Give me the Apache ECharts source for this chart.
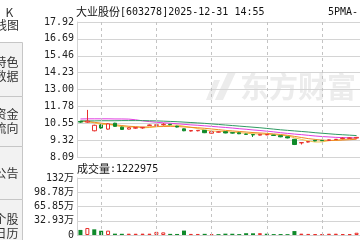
<!DOCTYPE html>
<html><head><meta charset="utf-8">
<style>html,body{margin:0;padding:0;background:#fff;overflow:hidden}#c{width:360px;height:240px}</style>
<script src="https://cdn.jsdelivr.net/npm/echarts@6/dist/echarts.min.js"></script>
</head><body><div id="c"></div>
<script>
// ---- data ----
const categories = ['1','2','3','4','5','6','7','8','9','10','11','12','13','14','15','16','17','18','19','20','21','22','23','24','25','26','27','28','29','30','31','32','33','34','35','36','37','38','39','40','41'];
const opens  = [10.68,10.63,10.00,10.42,10.12,10.55,10.26,10.12,10.19,10.21,10.39,10.40,10.44,10.47,10.34,10.14,9.98,10.00,10.03,9.82,9.90,9.93,9.86,9.85,9.76,9.72,9.68,9.70,9.68,9.64,9.56,9.38,9.12,9.18,9.30,9.30,9.30,9.36,9.43,9.45,9.47];
const closes = [10.63,10.70,10.40,10.20,10.50,10.32,10.10,10.22,10.23,10.25,10.42,10.43,10.47,10.44,10.27,10.00,10.02,10.03,9.86,9.93,9.92,9.84,9.83,9.78,9.74,9.70,9.74,9.73,9.66,9.56,9.48,9.00,9.14,9.21,9.26,9.28,9.34,9.38,9.46,9.48,9.52];
const lows   = [10.58,10.58,9.96,10.15,10.08,10.28,10.06,10.10,10.14,10.15,10.36,10.32,10.38,10.41,10.24,9.97,9.95,9.96,9.83,9.80,9.87,9.82,9.80,9.76,9.72,9.55,9.66,9.68,9.62,9.53,9.45,8.96,9.00,9.15,9.24,9.26,9.28,9.34,9.38,9.42,9.44];
const highs  = [10.72,11.52,10.44,10.47,10.55,10.58,10.30,10.25,10.26,10.28,10.45,10.50,10.55,10.49,10.36,10.16,10.04,10.05,10.05,9.95,9.96,9.95,9.88,9.87,9.78,9.73,9.76,9.76,9.70,9.66,9.58,9.40,9.16,9.24,9.32,9.33,9.36,9.40,9.52,9.52,9.55];
const prevClose = 10.70;
const volumes = [117000,162000,131000,98000,101000,31000,28000,30000,29000,31000,30000,72000,61000,26000,24000,102000,25000,24000,27000,21000,20000,31000,29000,21000,41000,39000,42000,30000,21000,22000,20000,91000,31000,25000,20000,21000,29000,30000,21000,20000,52000];
const maYellow  = [10.66,10.66,10.58,10.46,10.47,10.38,10.30,10.27,10.28,10.21,10.24,10.30,10.35,10.40,10.42,10.33,10.25,10.16,10.06,9.98,9.96,9.94,9.90,9.86,9.82,9.78,9.76,9.74,9.71,9.68,9.63,9.49,9.37,9.26,9.18,9.19,9.28,9.31,9.36,9.41,9.46];
const maOrange  = [10.70,10.68,10.62,10.55,10.50,10.44,10.38,10.33,10.30,10.27,10.28,10.30,10.31,10.32,10.31,10.28,10.25,10.22,10.18,10.13,10.08,10.03,9.99,9.95,9.91,9.87,9.84,9.81,9.77,9.73,9.67,9.59,9.51,9.43,9.37,9.32,9.30,9.30,9.32,9.35,9.38];
const maMagenta = [10.86,10.87,10.87,10.87,10.87,10.86,10.86,10.85,10.80,10.72,10.67,10.62,10.58,10.55,10.51,10.47,10.43,10.40,10.36,10.32,10.28,10.24,10.20,10.15,10.11,10.06,10.02,9.97,9.92,9.86,9.81,9.76,9.72,9.67,9.62,9.58,9.55,9.52,9.50,9.49,9.48];
const maGreen   = [10.72,10.72,10.72,10.73,10.73,10.73,10.74,10.74,10.74,10.74,10.73,10.72,10.70,10.68,10.66,10.63,10.60,10.57,10.54,10.50,10.46,10.42,10.38,10.34,10.30,10.26,10.22,10.17,10.12,10.07,10.03,9.99,9.95,9.91,9.86,9.82,9.78,9.74,9.71,9.68,9.65];
const priceTicks = ['8.09','9.32','10.55','11.78','13.00','14.23','15.46','16.69','17.92'];
const volTicks = ['0','32.93万','65.85万','98.78万','132万'];
const priceMin = 8.09, priceMax = 17.92;
const volMax = 1317000;
const stockName = '大业股份';
const stockInfo = '[603278]2025-12-31 14:55';
const volName = '成交量';
const volInfo = ':1222975';
const maLegend = '5PMA-';
const guideIdx = [3, 11, 19, 27, 35];
const sideTabs = [['特色','数据'],['资金','流向'],['公告'],['个股','日历']];

// ---- styling ----
const RED = '#e8302c', GREEN = '#0f8a2a';
const MONO = '"DejaVu Sans Mono","Noto Sans CJK SC",monospace';
const CJK = '"Noto Sans CJK SC",sans-serif';
const GRIDC = '#d4d4d4';

const chart = echarts.init(document.getElementById('c'), null, {renderer: 'canvas'});
const candle = categories.map((_, i) => [opens[i], closes[i], lows[i], highs[i]]);
const volData = volumes.map((v, i) => {
  const pc = i === 0 ? prevClose : closes[i - 1];
  const up = closes[i] >= pc;
  return {value: v, itemStyle: up ? {color: '#fff', borderColor: RED, borderWidth: 1} : {color: GREEN, borderColor: GREEN, borderWidth: 0}};
});
const guide = {
  silent: true, symbol: ['none', 'none'], animation: false,
  label: {show: false},
  lineStyle: {color: '#c4c4c4', type: [3, 3], width: 1},
  data: guideIdx.map(i => ({xAxis: categories[i]}))
};
const maLine = (d, c) => ({type: 'line', data: d, xAxisIndex: 0, yAxisIndex: 1, symbol: 'none', smooth: false,
  lineStyle: {color: c, width: 1}, silent: true, z: 3});

const graphic = [];
// sidebar
const tabY = [42.5, 96.5, 146.5, 199.5, 252.5];
sideTabs.forEach((t, k) => {
  graphic.push({type: 'rect', z: 1, shape: {x: -5.5, y: tabY[k], width: 28, height: tabY[k+1] - tabY[k]},
    style: {fill: '#f2f2f2', stroke: '#c6c6c6', lineWidth: 1}});
  const cy = (tabY[k] + tabY[k+1]) / 2;
  t.forEach((s, j) => {
    const yy = t.length === 1 ? cy : cy + (j === 0 ? -7 : 7);
    graphic.push({type: 'text', z: 2, style: {text: s, x: 6.5, y: yy, align: 'center', verticalAlign: 'middle',
      font: '12px ' + CJK, fill: '#333'}});
  });
});
graphic.push({type: 'text', z: 2, style: {text: 'K', x: 9.5, y: 12, align: 'center', verticalAlign: 'middle', font: '12px ' + CJK, fill: '#333'}});
graphic.push({type: 'text', z: 2, style: {text: '线图', x: 7, y: 25, align: 'center', verticalAlign: 'middle', font: '12px ' + CJK, fill: '#333'}});
// watermark
graphic.push({type: 'polygon', z: 0, shape: {points: [[206,100],[214,80],[220,80],[212,100]]}, style: {fill: '#ececec'}});
graphic.push({type: 'polygon', z: 0, shape: {points: [[215,100],[228,72],[236,72],[223,100]]}, style: {fill: '#ececec'}});
graphic.push({type: 'text', z: 0, style: {text: '东方财富', x: 240, y: 87, verticalAlign: 'middle', font: 'bold 29px ' + CJK, fill: '#ececec'}});
// titles
graphic.push({type: 'text', z: 5, style: {text: '{c|' + stockName + '}{m|' + stockInfo + '}', x: 76, y: 12, verticalAlign: 'middle',
  rich: {c: {fontFamily: CJK, fontSize: 11, fill: '#111', color: '#111'}, m: {fontFamily: MONO, fontSize: 10, fill: '#111', color: '#111'}}}});
graphic.push({type: 'text', z: 5, style: {text: maLegend, x: 328, y: 12, verticalAlign: 'middle', font: '10px ' + MONO, fill: '#111'}});
graphic.push({type: 'text', z: 5, style: {text: '{c|' + volName + '}{m|' + volInfo + '}', x: 77, y: 169, verticalAlign: 'middle',
  rich: {c: {fontFamily: CJK, fontSize: 11, fill: '#111', color: '#111'}, m: {fontFamily: MONO, fontSize: 10, fill: '#111', color: '#111'}}}});

const axisLabelStyle = {color: '#222', fontFamily: MONO, fontSize: 10, margin: 3};
const hiddenX = (g) => ({type: 'category', gridIndex: g, data: categories, boundaryGap: true,
  axisLine: {show: false}, axisTick: {show: false}, axisLabel: {show: false}, splitLine: {show: false}});

chart.setOption({
  animation: false,
  backgroundColor: '#fff',
  grid: [
    {left: 77, top: 22, width: 287, height: 135},
    {left: 77, top: 178, width: 287, height: 60}
  ],
  xAxis: [hiddenX(0), hiddenX(1)],
  yAxis: [
    {type: 'value', gridIndex: 0, min: 0, max: 8, interval: 1,
      axisLine: {show: true, lineStyle: {color: GRIDC}}, axisTick: {show: false},
      axisLabel: Object.assign({formatter: v => priceTicks[Math.round(v)]}, axisLabelStyle),
      splitLine: {show: true, lineStyle: {color: GRIDC, width: 1}}},
    {type: 'value', gridIndex: 0, min: priceMin, max: priceMax, show: false},
    {type: 'value', gridIndex: 1, min: 0, max: volMax, interval: volMax / 4,
      axisLine: {show: true, lineStyle: {color: GRIDC}}, axisTick: {show: false},
      axisLabel: Object.assign({formatter: v => volTicks[Math.round(v / (volMax / 4))]}, axisLabelStyle),
      splitLine: {show: true, lineStyle: {color: GRIDC, width: 1}}}
  ],
  graphic: graphic,
  series: [
    {type: 'candlestick', data: candle, xAxisIndex: 0, yAxisIndex: 1, barWidth: 4, silent: true, z: 4,
      itemStyle: {color: '#fff', color0: GREEN, borderColor: RED, borderColor0: GREEN, borderWidth: 1},
      markLine: guide},
    maLine(maYellow, '#f3c44a'),
    maLine(maOrange, '#f08a24'),
    maLine(maMagenta, '#e03ee0'),
    maLine(maGreen, '#2f9a63'),
    {type: 'bar', data: volData, xAxisIndex: 1, yAxisIndex: 2, barWidth: 4, silent: true, markLine: guide}
  ]
});
</script>
</body></html>
